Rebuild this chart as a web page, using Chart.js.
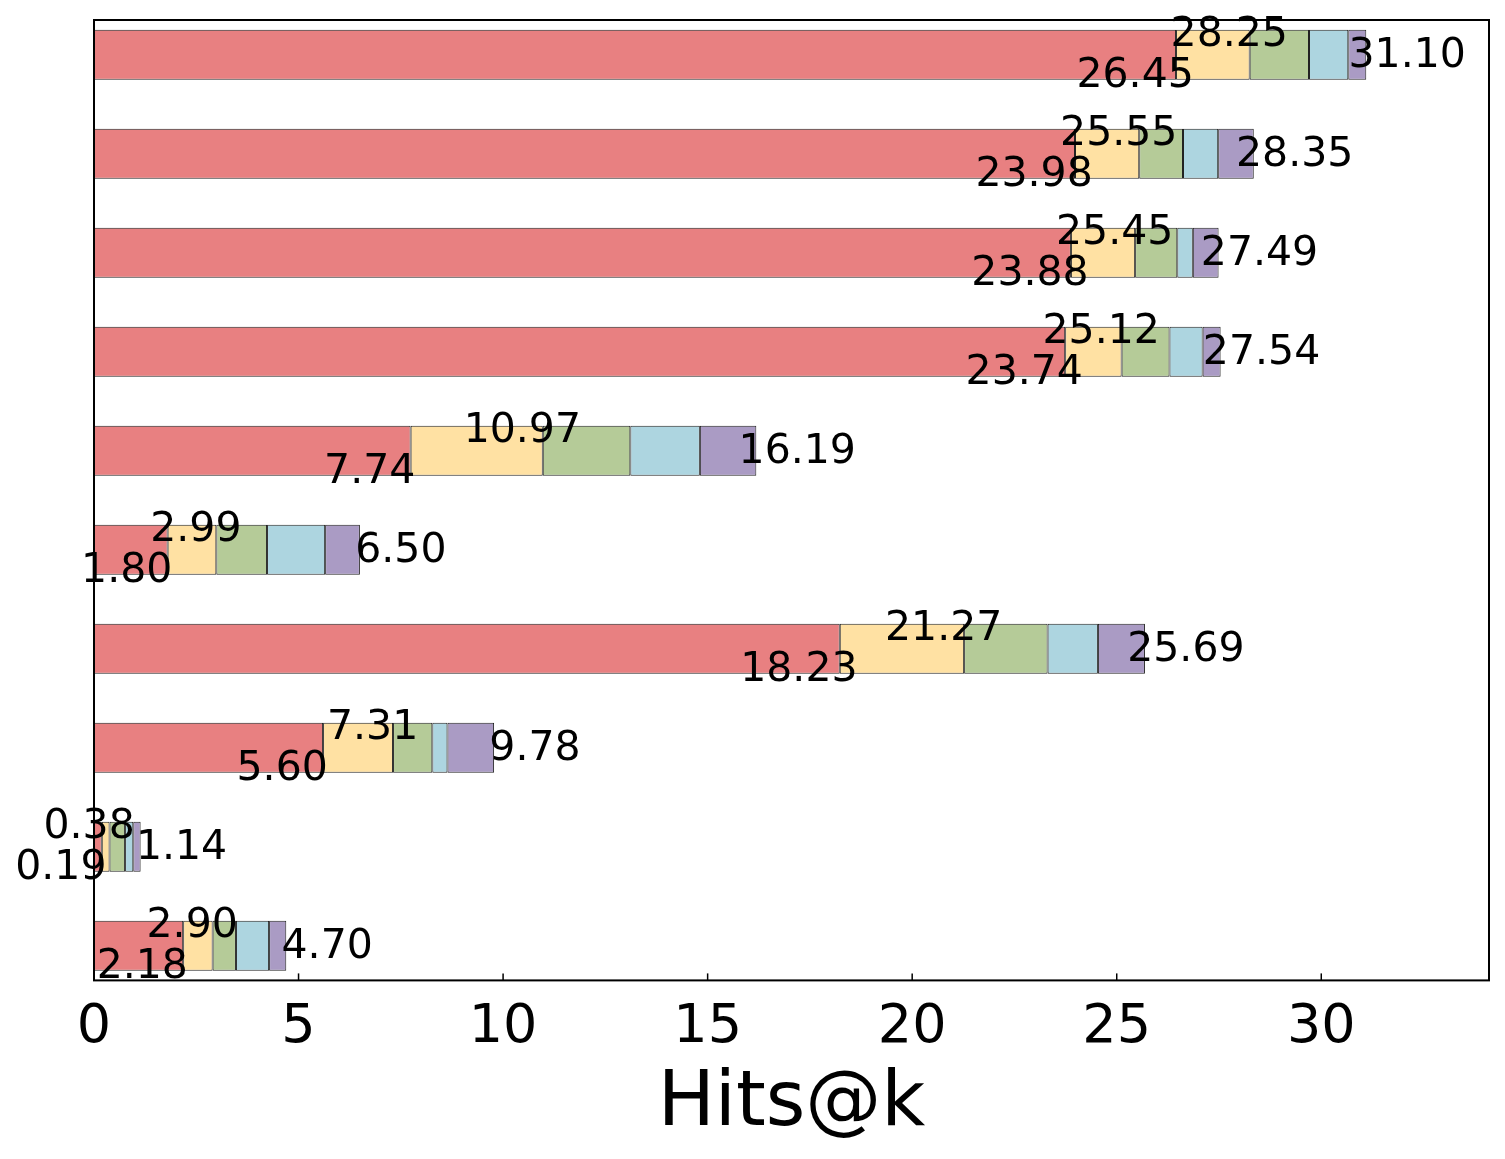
<!DOCTYPE html>
<html>
<head>
<meta charset="utf-8">
<script src="https://cdn.jsdelivr.net/npm/chart.js@4/dist/chart.umd.min.js"></script>
<style>
    body { margin: 0; background: #fff; }
</style>
</head>
<body>
<canvas id="hitsChart" width="1505" height="1159"></canvas>
<script>
// Each row is a stacked bar made of 5 segments (increments, top row first)
const seg1 = [26.45, 23.98, 23.88, 23.74, 7.74, 1.80, 18.23, 5.60, 0.19, 2.18]
const seg2 = [1.80, 1.57, 1.57, 1.38, 3.23, 1.19, 3.04, 1.71, 0.19, 0.72]
const seg3 = [1.45, 1.07, 1.03, 1.17, 2.14, 1.24, 2.04, 0.96, 0.38, 0.57]
const seg4 = [0.96, 0.86, 0.38, 0.81, 1.70, 1.42, 1.23, 0.37, 0.20, 0.81]
const seg5 = [0.44, 0.87, 0.63, 0.44, 1.38, 0.85, 1.15, 1.14, 0.18, 0.42]
const rows = [0, 1, 2, 3, 4, 5, 6, 7, 8, 9]
const xTicks = [0, 5, 10, 15, 20, 25, 30]
const xLabel = 'Hits@k'

const segments = [seg1, seg2, seg3, seg4, seg5]
const segColors = ['#e88081', '#ffe1a3', '#b5cb98', '#add5e0', '#aa9bc4']
const FONT = "'DejaVu Sans', sans-serif"

// cumulative sums per row, used for the value labels and the axis range
const cum = rows.map(r => {
    let s = 0
    return segments.map(seg => (s += seg[r]))
})
const xMax = Math.max(...cum.map(c => c[4])) + 3

// Draws the frame, inward ticks and the value labels
const decorations = {
    id: 'decorations',
    afterDatasetsDraw(chart) {
        const {ctx, chartArea: a, scales: {x, y}} = chart
        ctx.save()
        ctx.strokeStyle = '#000'
        ctx.lineWidth = 2
        ctx.strokeRect(a.left, a.top, a.right - a.left, a.bottom - a.top)
        ctx.lineWidth = 1.5
        xTicks.forEach(v => {
            const px = x.getPixelForValue(v)
            ctx.beginPath()
            ctx.moveTo(px, a.bottom)
            ctx.lineTo(px, a.bottom - 7)
            ctx.stroke()
        })

        ctx.fillStyle = '#000'
        ctx.font = '41px ' + FONT
        ctx.textAlign = 'center'
        ctx.textBaseline = 'alphabetic'
        rows.forEach(r => {
            const cy = y.getPixelForValue(r)
            const c = cum[r]
            ctx.fillText(c[0].toFixed(2), x.getPixelForValue(c[0] - 1), cy + 32)
            ctx.fillText(c[1].toFixed(2), x.getPixelForValue(c[1] - 0.5), cy - 9)
            ctx.fillText(c[4].toFixed(2), x.getPixelForValue(c[4] + 1), cy + 12)
        })
        ctx.restore()
    }
}

const ctx = document.getElementById('hitsChart').getContext('2d')
const hitsChart = new Chart(ctx, {
    type: 'bar',
    data: {
        datasets: segments.map((seg, i) => ({
            label: 'part ' + (i + 1),
            data: rows.map(r => ({x: seg[r], y: r})),
            backgroundColor: segColors[i],
            borderColor: '#222',
            borderWidth: 1,
            borderSkipped: false,
            categoryPercentage: 1.0,
            barPercentage: 0.505
        }))
    },
    options: {
        indexAxis: 'y',
        responsive: false,
        animation: false,
        layout: {
            padding: {left: 94, right: 16, top: 20, bottom: 12}
        },
        plugins: {
            legend: {display: false},
            tooltip: {enabled: false}
        },
        scales: {
            x: {
                type: 'linear',
                stacked: true,
                min: 0,
                max: xMax,
                afterBuildTicks: scale => { scale.ticks = xTicks.map(v => ({value: v})) },
                grid: {display: false, drawTicks: false},
                border: {display: false},
                ticks: {
                    color: '#000',
                    padding: 21,
                    maxRotation: 0,
                    font: {family: FONT, size: 54, lineHeight: 1}
                },
                title: {
                    display: true,
                    text: xLabel,
                    color: '#000',
                    padding: {top: -13, bottom: 0},
                    font: {family: FONT, size: 76, lineHeight: 1.1}
                }
            },
            y: {
                type: 'linear',
                stacked: true,
                reverse: true,
                offset: false,
                min: -0.35,
                max: 9.35,
                display: false,
                afterBuildTicks: scale => { scale.ticks = rows.map(v => ({value: v})) }
            }
        }
    },
    plugins: [decorations]
})
</script>
</body>
</html>
